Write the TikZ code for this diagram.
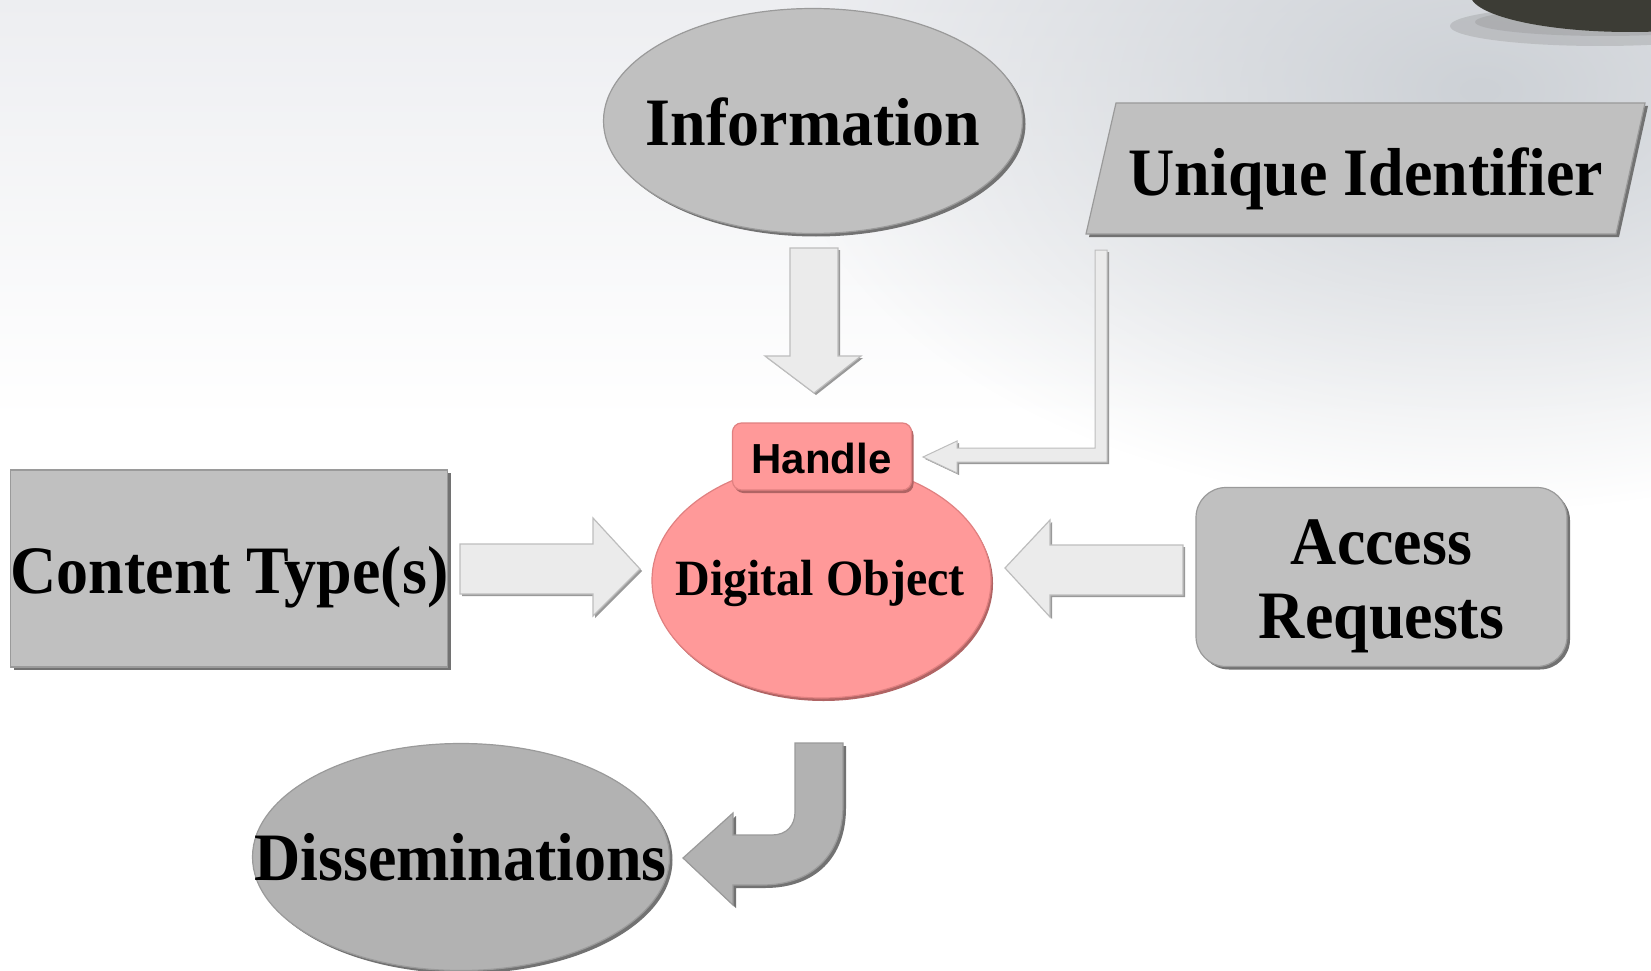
\documentclass[tikz,border=0pt]{standalone}
\usepackage{fontspec}
\usepackage{graphicx}
\setmainfont{Liberation Serif}
\newfontfamily\handlefont{Liberation Sans}
\usetikzlibrary{shapes.geometric,shadows,fadings}
\tikzfading[name=cornerfade, inner color=transparent!0, outer color=transparent!100]
\definecolor{shapegray}{HTML}{C0C0C0}
\definecolor{dissgray}{HTML}{B2B2B2}
\definecolor{edgegray}{HTML}{9A9A9A}
\definecolor{shadowgray}{HTML}{727272}
\definecolor{pinkfill}{HTML}{FF9999}
\definecolor{pinkedge}{HTML}{E08080}
\definecolor{pinkshadow}{HTML}{B06464}
\definecolor{arrowfill}{HTML}{EBEBEB}
\definecolor{arrowedge}{HTML}{BDBDBD}
\definecolor{bgtop}{HTML}{EDEEF1}
\definecolor{bgcorner}{HTML}{CDD1D6}
\definecolor{blobc}{HTML}{3C3C35}
\newcommand\tallbox[1]{\scalebox{1}[1.06]{#1}}
\begin{document}
\begin{tikzpicture}[x=1pt,y=-1pt,
  grayshape/.style={fill=shapegray, draw=edgegray, line width=1.2pt,
    drop shadow={shadow xshift=3pt, shadow yshift=-3pt, fill=shadowgray, opacity=1}},
  pinkshape/.style={fill=pinkfill, draw=pinkedge, line width=1.2pt,
    drop shadow={shadow xshift=2pt, shadow yshift=-3pt, fill=pinkshadow, opacity=1}},
  blockarrow/.style={fill=arrowfill, draw=arrowedge, line width=1.2pt,
    drop shadow={shadow xshift=2pt, shadow yshift=-2pt, fill=black!40, opacity=1}},
  bigtxt/.style={font=\fontsize{64}{74}\selectfont\bfseries, inner sep=0pt, anchor=base},
  midtxt/.style={font=\fontsize{48}{56}\selectfont\bfseries, inner sep=0pt, anchor=base},
  handletxt/.style={font=\handlefont\fontsize{42}{48}\selectfont\bfseries, inner sep=0pt, anchor=base}
]
% background
\useasboundingbox (0,0) rectangle (1651,971);
\fill[white] (0,0) rectangle (1651,971);
\shade[top color=bgtop, bottom color=white] (0,0) rectangle (1651,420);
\fill[white] (0,420) rectangle (1651,971);
\fill[bgcorner, path fading=cornerfade] (1480,90) ellipse [x radius=700, y radius=420];
\fill[black!45, opacity=0.3] (1600,26) ellipse [x radius=150, y radius=20];
\fill[black!45, opacity=0.3] (1605,22) ellipse [x radius=130, y radius=14];
\fill[blobc] (1630,-6) ellipse [x radius=160, y radius=38];

% shapes
\node[grayshape, ellipse, minimum width=419pt, minimum height=225pt, inner sep=0pt] (info) at (813,121) {};
\path[grayshape] (1116,103) -- (1645,103) -- (1616,234) -- (1086,234) -- cycle;
\node[grayshape, rectangle, minimum width=437pt, minimum height=197pt, inner sep=0pt] (content) at (229,568.5) {};
\node[grayshape, rectangle, rounded corners=30pt, minimum width=371pt, minimum height=179pt, inner sep=0pt] (access) at (1381.5,577) {};
\node[grayshape, fill=dissgray, ellipse, minimum width=417pt, minimum height=227pt, inner sep=0pt] (diss) at (461,857) {};
\node[pinkshape, ellipse, minimum width=339pt, minimum height=235pt, inner sep=0pt] (dobj) at (821.5,580.5) {};
\node[pinkshape, rectangle, rounded corners=9pt, minimum width=179pt, minimum height=67pt, inner sep=0pt] (handle) at (822,456.5) {};

% labels
\node[bigtxt] (infotxt) at (813,146) {\tallbox{Information}};
\node[bigtxt] (uidtxt) at (1366,195) {\tallbox{Unique Identifier}};
\node[bigtxt] (contenttxt) at (229.5,593) {\tallbox{Content Type(s)}};
\node[bigtxt] (accesstxt) at (1381.5,564) {\tallbox{Access}};
\node[bigtxt] (requeststxt) at (1381.5,638) {\tallbox{Requests}};
\node[bigtxt] (disstxt) at (460.5,880) {\tallbox{Disseminations}};
\node[midtxt] (dobjtxt) at (820,595) {\tallbox{Digital Object}};
\node[handletxt] (handletxt) at (821.5,473) {Handle};

% block arrows
\path[blockarrow] (790,248) -- (838,248) -- (838,356) -- (861,356) -- (814,393)
  -- (765,356) -- (790,356) -- cycle;
\path[blockarrow] (460,544) -- (593,544) -- (593,518) -- (640,569) -- (593,616)
  -- (593,594) -- (460,594) -- cycle;
\path[blockarrow] (1183,545) -- (1050,545) -- (1050,520) -- (1005,568) -- (1050,617)
  -- (1050,595) -- (1183,595) -- cycle;
\path[blockarrow, line width=1pt] (1095,250) -- (1107,250) -- (1107,462) -- (957,462)
  -- (957,473) -- (923,457) -- (957,441) -- (957,448) -- (1095,448) -- cycle;
\path[grayshape, fill=dissgray] (795,743) -- (843,743) -- (843,805)
  .. controls (843,855) and (812,885) .. (762,885) -- (733,885) -- (733,905)
  -- (683,858) -- (733,813) -- (733,835) -- (772,835)
  .. controls (787,835) and (795,825) .. (795,812) -- cycle;
\end{tikzpicture}
\end{document}
